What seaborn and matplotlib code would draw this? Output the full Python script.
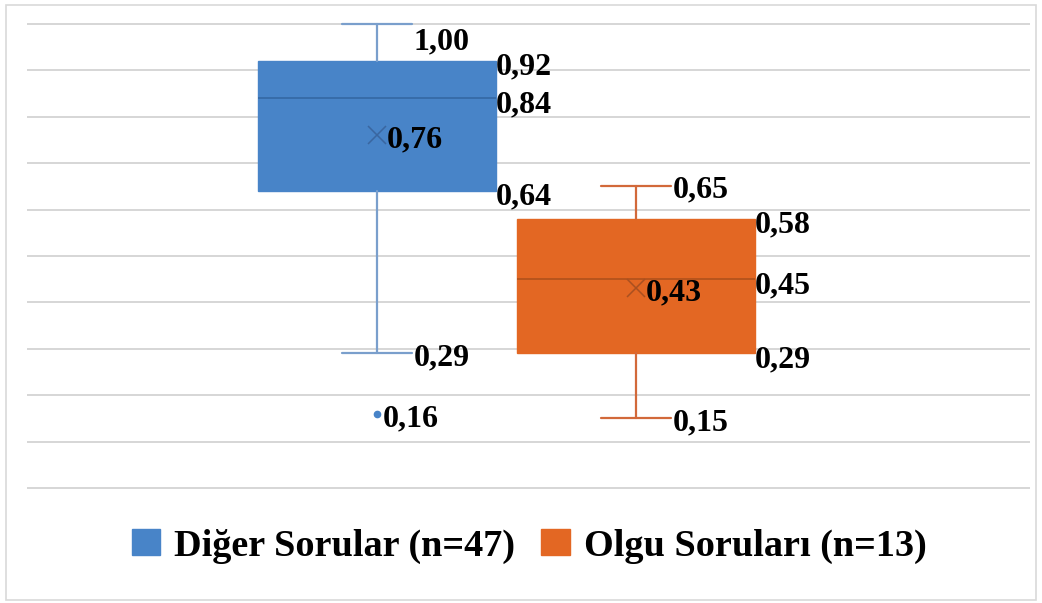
import matplotlib
matplotlib.use("Agg")
import matplotlib.pyplot as plt
from matplotlib.patches import Patch, Rectangle
import seaborn as sns

# ---- data ----
series_names = ["Diğer Sorular (n=47)", "Olgu Soruları (n=13)"]
q1_vals = [0.64, 0.29]
median_vals = [0.84, 0.45]
q3_vals = [0.92, 0.58]
whisker_low = [0.29, 0.15]
whisker_high = [1.00, 0.65]
mean_vals = [0.76, 0.43]
outliers = [[0.16], []]
grid_ticks = [0.0, 0.1, 0.2, 0.3, 0.4, 0.5, 0.6, 0.7, 0.8, 0.9, 1.0]

# ---- style ----
sns.set_theme(style="white")
face_colors = ["#4884C8", "#E36723"]
median_colors = ["#366AA6", "#B4531C"]
whisker_colors = ["#7A9FCC", "#D2693A"]
mean_colors = ["#3A66A0", "#A95020"]
FONT = "Liberation Serif"

W, H = 1042, 603
fig = plt.figure(figsize=(W / 100, H / 100), dpi=100)

# pixel geometry of the plotting area
px_per_unit = 464.0
y0_px = 488.0
ylim = (-0.012, 1.012)
bottom_px = y0_px + (-ylim[0]) * px_per_unit
top_px = y0_px - ylim[1] * px_per_unit
left_px, right_px = 27, 1030
ax = fig.add_axes([left_px / W, (H - bottom_px) / H,
                   (right_px - left_px) / W, (bottom_px - top_px) / H])
ax.set_ylim(*ylim)
ax.set_xlim(-1.351, 2.521)

for t in grid_ticks:
    ax.axhline(t, color="#D6D6D6", lw=1.4, zorder=0)
for s in ax.spines.values():
    s.set_visible(False)
ax.set_xticks([])
ax.set_yticks([])

positions = [0.0, 1.0]
box_w = 0.919
cap_w = 0.27

for i, pos in enumerate(positions):
    stats = [dict(med=median_vals[i], q1=q1_vals[i], q3=q3_vals[i],
                  whislo=whisker_low[i], whishi=whisker_high[i],
                  mean=mean_vals[i], fliers=outliers[i], label=series_names[i])]
    ax.bxp(stats, positions=[pos], widths=[box_w], capwidths=[cap_w],
           patch_artist=True, showmeans=True, manage_ticks=False,
           boxprops=dict(facecolor=face_colors[i], edgecolor=face_colors[i], lw=1),
           medianprops=dict(color=median_colors[i], lw=1.3),
           whiskerprops=dict(color=whisker_colors[i], lw=1.6),
           capprops=dict(color=whisker_colors[i], lw=1.6),
           meanprops=dict(marker="x", markeredgecolor=mean_colors[i],
                          markersize=13, markeredgewidth=1.1),
           flierprops=dict(marker="o", markerfacecolor=face_colors[i],
                           markeredgecolor=face_colors[i], markersize=4.5))

def fmt(v):
    return f"{v:.2f}".replace(".", ",")

lab_kw = dict(fontfamily=FONT, fontweight="bold", fontsize=23, color="black",
              va="center", textcoords="offset points", zorder=5)

for i, pos in enumerate(positions):
    # box stats labels at right edge of box
    for v in (q3_vals[i], median_vals[i], q1_vals[i]):
        ax.annotate(fmt(v), (pos + box_w / 2, v), xytext=(0, -4.5), ha="left", **lab_kw)
    # whisker labels at right end of caps
    hi_dy = -13 if whisker_high[i] >= 1.0 else -2.5
    ax.annotate(fmt(whisker_high[i]), (pos + cap_w / 2, whisker_high[i]),
                xytext=(1, hi_dy), ha="left", **lab_kw)
    ax.annotate(fmt(whisker_low[i]), (pos + cap_w / 2, whisker_low[i]),
                xytext=(1, -3.5), ha="left", **lab_kw)
    # mean label
    ax.annotate(fmt(mean_vals[i]), (pos, mean_vals[i]), xytext=(7, -3.5),
                ha="left", **lab_kw)
    # outliers
    for v in outliers[i]:
        ax.annotate(fmt(v), (pos, v), xytext=(4, -3.5), ha="left", **lab_kw)

# legend
handles = [Patch(facecolor=face_colors[i], edgecolor=face_colors[i], label=series_names[i])
           for i in range(len(series_names))]
leg = fig.legend(handles=handles, loc="center", bbox_to_anchor=(529 / W, 1 - 546 / H),
                 ncol=2, frameon=False, handlelength=0.75, handleheight=0.65,
                 handletextpad=0.35, columnspacing=0.7,
                 prop=dict(family=FONT, weight="bold", size=27.5))
for txt in leg.get_texts():
    txt.set_color("black")

# outer chart border
fig.patches.append(Rectangle((6 / W, 1 - 600 / H), (1036 - 6) / W, (600 - 5) / H,
                             transform=fig.transFigure, fill=False,
                             edgecolor="#D9D9D9", lw=1.2))

fig.savefig("out.png", dpi=100)
